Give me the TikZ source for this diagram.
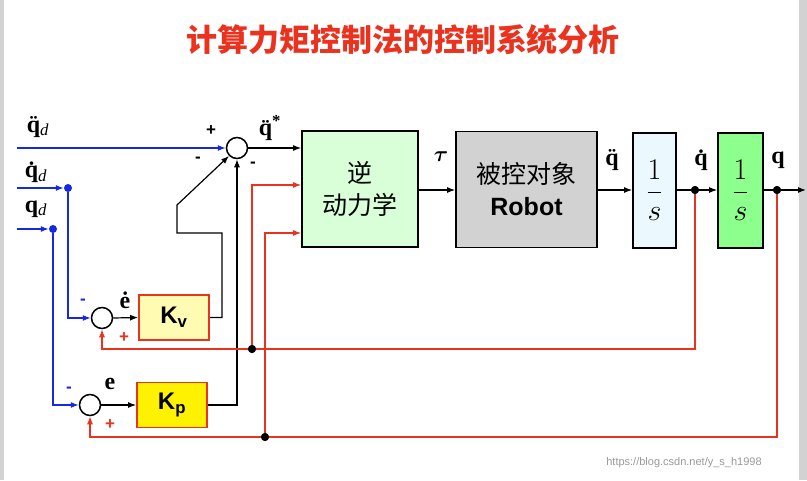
\documentclass[tikz,border=0pt]{standalone}
\usepackage{fix-cm}
\usepackage{amsmath,bm}
\usepackage{fontspec}
\setmainfont{Liberation Sans}
\newfontfamily\cjk{Noto Sans CJK SC}
\newfontfamily\srf{Liberation Serif}
\usetikzlibrary{arrows.meta}
\definecolor{bl}{RGB}{20,40,230}
\definecolor{rd}{RGB}{235,50,30}
\newcommand{\subd}{\textsubscript{\normalfont\srf\itshape d}}
\begin{document}
\begin{tikzpicture}[x=1pt,y=-1pt,
  arr/.style={-{Latex[length=8pt,width=6pt]},line width=1.2pt},
  ln/.style={line width=1.2pt},
  sum/.style={circle,draw,line width=1.5pt,minimum size=21pt,inner sep=0pt,fill=white},
  blk/.style={draw,line width=1.8pt,inner sep=0pt},
  kb/.style={draw=rd,line width=1.8pt,inner sep=0pt,minimum width=70pt,minimum height=45pt,font=\bfseries\fontsize{24}{26}\selectfont},
  dot/.style={circle,fill,inner sep=0pt,minimum size=8pt},
  lab/.style={font=\srf\bfseries\fontsize{24}{26}\selectfont,inner sep=1pt},
  sg/.style={font=\bfseries\fontsize{17}{18}\selectfont}]
\useasboundingbox (0,0) rectangle (807,480);
\fill[white] (0,0) rectangle (807,480);
\fill[gray!35] (0,0) rectangle (4,480);
\fill[gray!35] (799,0) rectangle (807,480);
\node[text=rd,font=\cjk\bfseries\fontsize{31}{33}\selectfont] (title) at (403,40) {计算力矩控制法的控制系统分析};
% blocks
\node[sum] (s1) at (237,148) {};
\node[blk,fill=green!15,minimum width=116pt,minimum height=116pt,align=center,font=\cjk\fontsize{25}{32}\selectfont] (inv) at (360,189) {逆\\动力学};
\node[blk,fill=gray!35,minimum width=141pt,minimum height=116pt,align=center,font=\fontsize{25}{32}\selectfont] (rob) at (526.5,189.5) {{\cjk 被控对象}\\\textbf{Robot}};
\node[blk,fill=cyan!8,minimum width=43pt,minimum height=115pt,font=\fontsize{30}{32}\selectfont] (i1) at (654.5,190.5) {$\displaystyle\frac{1}{s}$};
\node[blk,fill=green!45,minimum width=45pt,minimum height=115pt,font=\fontsize{30}{32}\selectfont] (i2) at (740.5,190.5) {$\displaystyle\frac{1}{s}$};
\node[dot,fill=black] (d1) at (695,190) {};
\node[dot,fill=black] (d2) at (777,190) {};
\coordinate (qout) at (806,190);
\node[sum] (s2) at (102,318) {};
\node[sum] (s3) at (90,405) {};
\node[kb,fill=yellow!30] (kv) at (174,317.5) {K\textsubscript{v}};
\node[kb,fill=yellow] (kp) at (172,405) {K\textsubscript{p}};
% inputs
\coordinate (in1) at (17,148);
\coordinate (in2) at (17,188);
\coordinate (in3) at (17,229);
\node[dot,fill=bl] (bd1) at (68,188) {};
\node[dot,fill=bl] (bd2) at (53,229) {};
\draw[arr,bl] (in1) -- (s1.west);
\draw[arr,bl] (in2) -- (bd1);
\draw[arr,bl] (in3) -- (bd2);
\draw[arr,bl] (bd1) |- (s2.west);
\draw[arr,bl] (bd2) |- (s3.west);
% forward path
\draw[arr] (s1.east) -- (inv.west |- s1);
\draw[arr] (inv.east |- 0,190) -- (rob.west |- 0,190);
\draw[arr] (rob.east |- 0,190) -- (i1.west |- 0,190);
\draw[ln] (i1.east |- 0,190) -- (d1);
\draw[arr] (d1) -- (i2.west |- 0,190);
\draw[ln] (i2.east |- 0,190) -- (d2);
\draw[arr] (d2) -- (qout);
\draw[arr] (s2.east) -- (kv.west);
\draw[arr] (s3.east) -- (kp.west);
\draw[arr] (kv.east) -- (222,317.5) -- (222,233) -- (177,233) -- (177,205) -- (s1.south west);
\draw[arr] (kp.east) -| (s1.south);
% red feedback
\node[dot,fill=black] (rd1) at (252,349) {};
\node[dot,fill=black] (rd2) at (265,437) {};
\draw[ln,draw=rd] (d1) |- (rd1);
\draw[arr,rd] (rd1) -| (s2.south);
\draw[arr,rd] (rd1) |- (inv.west |- 0,185);
\draw[ln,draw=rd] (d2) |- (rd2);
\draw[arr,rd] (rd2) -| (s3.south);
\draw[arr,rd] (rd2) |- (inv.west |- 0,233);
\node[dot,fill=black] at (252,349) {};
\node[dot,fill=black] at (265,437) {};
\node[dot,fill=black] at (695,190) {};
\node[dot,fill=black] at (777,190) {};
% labels
\node[lab] (l1) at (38,127) {\"q\subd};
\node[lab] (l2) at (36,172) {\.q\subd};
\node[lab] (l3) at (36,209) {q\subd};
\node[lab] (l4) at (270,128) {\"q\textsuperscript{*}};
\node[lab,font=\fontsize{22}{24}\selectfont] (l5) at (441,157) {$\bm{\tau}$};
\node[lab] (l6) at (612,160) {\"q};
\node[lab] (l7) at (701,160) {\.q};
\node[lab] (l8) at (778,160) {q};
\node[lab] (l9) at (125,300) {\.e};
\node[lab] (l10) at (110,384) {e};
\node[sg] (p1) at (211,131) {+};
\node[sg] (m1) at (198,160) {-};
\node[sg] (m2) at (253,165) {-};
\node[sg,text=bl] (m3) at (83,302) {-};
\node[sg,text=rd] (p2) at (124,338) {+};
\node[sg,text=bl] (m4) at (69,390) {-};
\node[sg,text=rd] (p3) at (110,425) {+};
\node[text=gray!80,font=\fontsize{11}{12}\selectfont] (wm) at (684,463) {https://blog.csdn.net/y\_s\_h1998};
\end{tikzpicture}
\end{document}
